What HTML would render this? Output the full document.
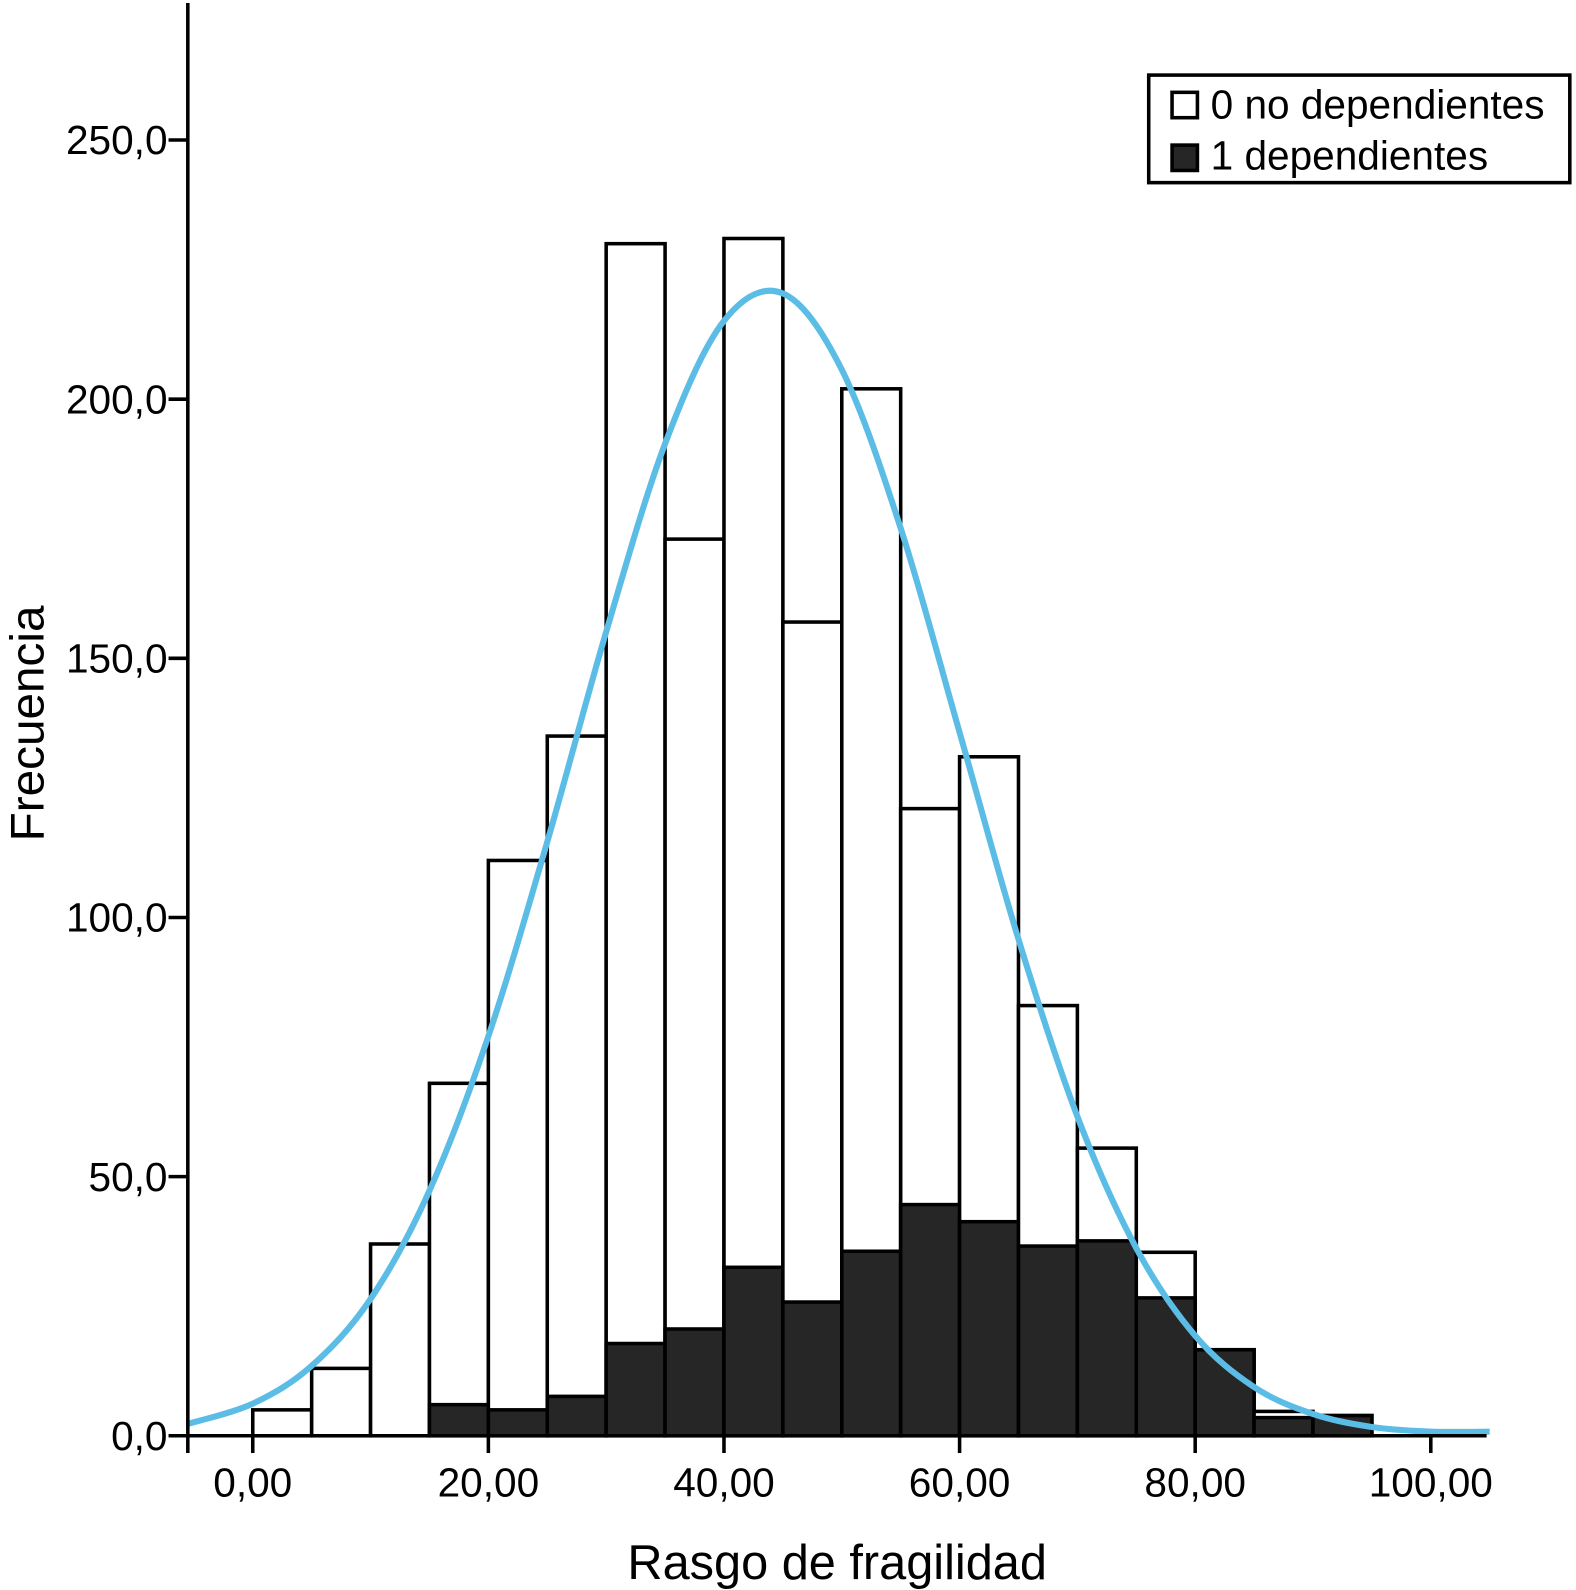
<!DOCTYPE html>
<html><head><meta charset="utf-8"><style>
html,body{margin:0;padding:0;background:#fff}
svg{display:block;font-family:"Liberation Sans",Arial,sans-serif}
</style></head><body>
<svg id="chart" width="1576" height="1590" viewBox="0 0 1553 1567" xmlns="http://www.w3.org/2000/svg">
<g id="bars"></g>
<path id="curve" fill="none" stroke="#5bbde6" stroke-width="6"/>
<g id="axes"></g>
<text transform="translate(43,713) rotate(-90)" text-anchor="middle" font-size="47">Frecuencia</text>
<text x="825" y="1556" text-anchor="middle" font-size="48">Rasgo de fragilidad</text>
<g>
<rect x="1132" y="74" width="415" height="106" fill="#fff" stroke="#000" stroke-width="3.5"/>
<rect x="1155" y="91" width="25" height="25" fill="#fff" stroke="#000" stroke-width="3.5"/>
<text x="1193" y="117" font-size="40">0 no dependientes</text>
<rect x="1155" y="143" width="25" height="25" fill="#262626" stroke="#000" stroke-width="3.5"/>
<text x="1193" y="167" font-size="40">1 dependientes</text>
</g>
</svg>
<script>
const binStarts=[0,5,10,15,20,25,30,35,40,45,50,55,60,65,70,75,80,85,90];
const totals=[5,13,37,68,111,135,230,173,231,157,202,121,131,83,55.5,35.4,16.6,4.7,3.9];
const dependientes=[0,0,0,6,5,7.6,17.8,20.6,32.5,25.8,35.6,44.6,41.3,36.6,37.6,26.6,16.6,3.5,3.9];
const curveX=[-5.5,0,5,10,15,20,25,30,35,40,45,50,55,60,65,70,75,80,85,90,95,100,105];
const curveY=[2.3,6.2,13.5,26.4,47.3,77.1,114.6,155.1,191.4,215.1,220.4,205.7,175.1,135.7,95.8,61.6,36.2,19.3,9.4,4.2,1.7,0.8,0.8];
const yTicks=[0,50,100,150,200,250];
const yTickLabels=["0,0","50,0","100,0","150,0","200,0","250,0"];
const xTicks=[0,20,40,60,80,100];
const xTickLabels=["0,00","20,00","40,00","60,00","80,00","100,00"];
const binWidth=5;

const NS="http://www.w3.org/2000/svg";
const X=v=>249+v*11.61;
const Y=v=>1415-v*5.108;
function mk(tag,attrs,parent){const e=document.createElementNS(NS,tag);for(const k in attrs)e.setAttribute(k,attrs[k]);parent.appendChild(e);return e;}
const bars=document.getElementById('bars');
binStarts.forEach((b,i)=>{
  const x0=X(b),x1=X(b+binWidth);
  const r=mk('rect',{x:x0,y:Y(totals[i]),width:x1-x0,height:Y(0)-Y(totals[i]),fill:'#fff',stroke:'#000','stroke-width':3.5},bars);
  
  
  if(dependientes[i]>0){
    const d=mk('rect',{x:x0,y:Y(dependientes[i]),width:x1-x0,height:Y(0)-Y(dependientes[i]),fill:'#262626',stroke:'#000','stroke-width':3.5},bars);
    
    
  }
});
const pts=curveX.map((x,i)=>[X(x),Y(curveY[i])]);
let d='M'+pts[0][0]+','+pts[0][1];
for(let i=0;i<pts.length-1;i++){
  const p0=pts[Math.max(0,i-1)],p1=pts[i],p2=pts[i+1],p3=pts[Math.min(pts.length-1,i+2)];
  const c1=[p1[0]+(p2[0]-p0[0])/6,p1[1]+(p2[1]-p0[1])/6];
  const c2=[p2[0]-(p3[0]-p1[0])/6,p2[1]-(p3[1]-p1[1])/6];
  d+=' C'+c1[0]+','+c1[1]+' '+c2[0]+','+c2[1]+' '+p2[0]+','+p2[1];
}
document.getElementById('curve').setAttribute('d',d);
const ax=document.getElementById('axes');
let l=mk('line',{x1:185,y1:3,x2:185,y2:1432,stroke:'#000','stroke-width':3.5},ax);


l=mk('line',{x1:185,y1:1415,x2:1465,y2:1415,stroke:'#000','stroke-width':3.5},ax);


yTicks.forEach((v,i)=>{
  const t=mk('line',{x1:166,y1:Y(v),x2:185,y2:Y(v),stroke:'#000','stroke-width':3.5},ax);
  
  
  const tx=mk('text',{x:165,y:Y(v)+14,'text-anchor':'end','font-size':40},ax);
  tx.textContent=yTickLabels[i];
  
  
});
xTicks.forEach((v,i)=>{
  const t=mk('line',{x1:X(v),y1:1415,x2:X(v),y2:1432,stroke:'#000','stroke-width':3.5},ax);
  
  
  const tx=mk('text',{x:X(v),y:1475,'text-anchor':'middle','font-size':40},ax);
  tx.textContent=xTickLabels[i];
  
  
});
</script>
</body></html>
